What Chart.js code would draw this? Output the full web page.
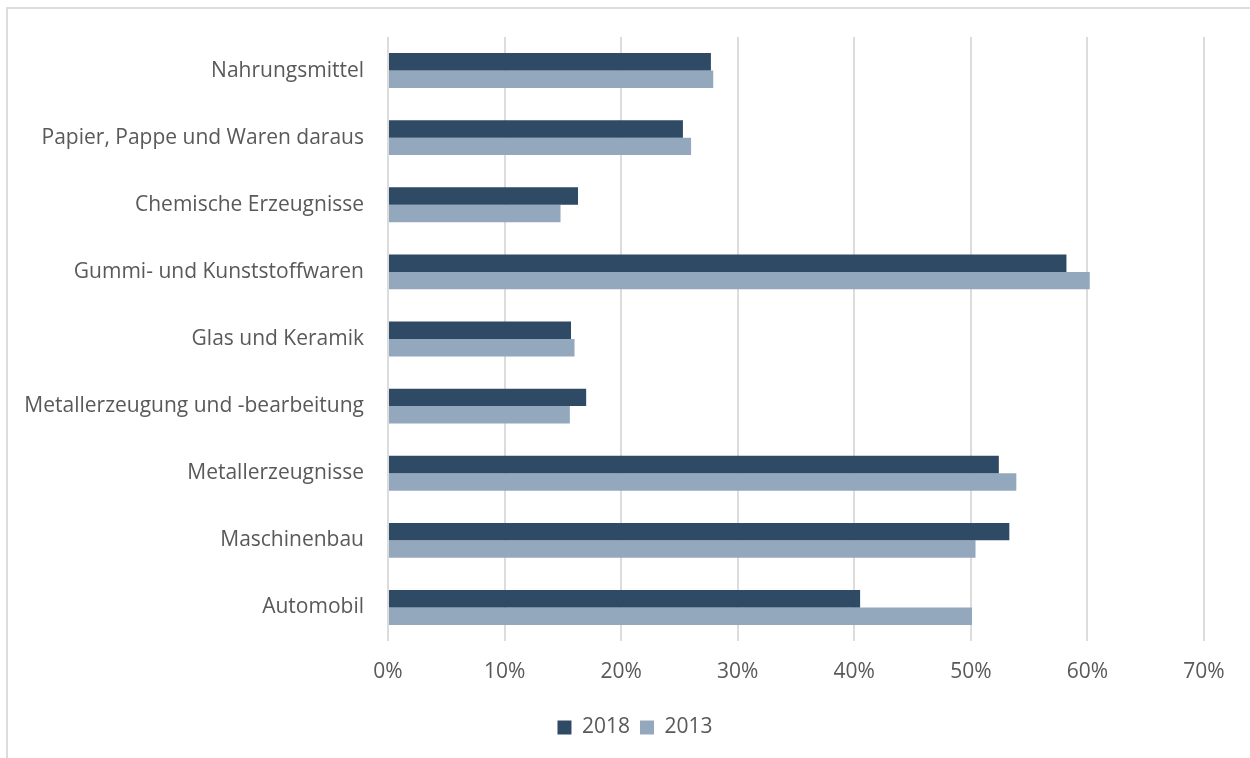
<!DOCTYPE html>
<html lang="de">
<head>
<meta charset="utf-8">
<title>Anteil nach Branche</title>
<script src="https://cdn.jsdelivr.net/npm/chart.js@4"></script>
<style>
  html, body { margin: 0; padding: 0; background: #fff; overflow: hidden; }
  .frame {
    position: absolute; left: 6px; top: 7px; width: 1300px; height: 800px;
    border-top: 2px solid #dcdcdc; border-left: 2px solid #dcdcdc;
  }
  .wrap { position: absolute; left: 0; top: 0; width: 1250px; height: 758px; }
</style>
</head>
<body>
<div class="frame"></div>
<div class="wrap"><canvas id="myChart" width="1250" height="758"></canvas></div>
<script>
const branchen = [
  "Nahrungsmittel",
  "Papier, Pappe und Waren daraus",
  "Chemische Erzeugnisse",
  "Gummi- und Kunststoffwaren",
  "Glas und Keramik",
  "Metallerzeugung und -bearbeitung",
  "Metallerzeugnisse",
  "Maschinenbau",
  "Automobil",
];
const werte2018 = [27.7, 25.3, 16.3, 58.2, 15.7, 17.0, 52.4, 53.3, 40.5];
const werte2013 = [27.9, 26.0, 14.8, 60.2, 16.0, 15.6, 53.9, 50.4, 50.1];

const textColor = "#595959";
const gridColor = "#dcdcdc";
const fontFamily = "'Open Sans', sans-serif";
const fontSize = 21;

// legend sits centred under the plot area, not under the whole canvas
const legendShift = {
  id: "legendShift",
  afterLayout(chart) {
    chart.legend.left += 56;
  },
};

const ctx = document.getElementById("myChart").getContext("2d");
new Chart(ctx, {
  type: "bar",
  data: {
    labels: branchen,
    datasets: [
      {
        label: "2018",
        data: werte2018,
        backgroundColor: "#2e4a65",
        borderWidth: 0,
        categoryPercentage: 0.52,
        barPercentage: 1,
      },
      {
        label: "2013",
        data: werte2013,
        backgroundColor: "#93a8bd",
        borderWidth: 0,
        categoryPercentage: 0.52,
        barPercentage: 1,
      },
    ],
  },
  options: {
    indexAxis: "y",
    responsive: false,
    animation: false,
    layout: {
      padding: { top: 37, left: 10, right: 46, bottom: 10 },
    },
    plugins: {
      tooltip: { enabled: false },
      legend: {
        position: "bottom",
        labels: {
          color: textColor,
          font: { family: fontFamily, size: fontSize },
          boxWidth: 14,
          boxHeight: 14,
          padding: 10,
        },
      },
    },
    scales: {
      x: {
        min: 0,
        max: 70,
        ticks: {
          stepSize: 10,
          color: textColor,
          font: { family: fontFamily, size: fontSize },
          padding: 18,
          callback: (v) => v + "%",
        },
        grid: { color: gridColor, lineWidth: 2, drawTicks: false },
        border: { display: false },
        afterFit: (scale) => { scale.height = 66; },
      },
      y: {
        ticks: {
          color: textColor,
          font: { family: fontFamily, size: fontSize },
          padding: 24,
        },
        grid: { display: false, drawTicks: false },
        border: { display: false },
        afterFit: (scale) => { scale.width = 378; },
      },
    },
  },
  plugins: [legendShift],
});
</script>
</body>
</html>
